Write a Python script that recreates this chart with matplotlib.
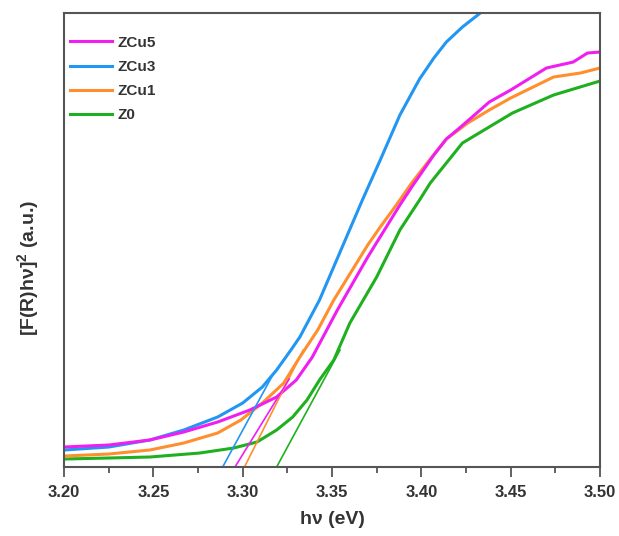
import matplotlib
matplotlib.use("Agg")
import matplotlib.pyplot as plt

plt.rcParams['font.family'] = ['Liberation Sans', 'DejaVu Sans']
plt.rcParams['mathtext.fontset'] = 'custom'
plt.rcParams['mathtext.bf'] = 'Liberation Sans:bold'
plt.rcParams['mathtext.rm'] = 'Liberation Sans:bold'

# photon energy (eV) and [F(R)hv]^2 (a.u.)
E_zcu5 = [3.200, 3.225, 3.248, 3.267, 3.286, 3.304, 3.319, 3.330, 3.339, 3.353, 3.370,
          3.379, 3.388, 3.395, 3.407, 3.414, 3.422, 3.431, 3.438, 3.450, 3.470, 3.485,
          3.493, 3.500]
I_zcu5 = [20, 22, 27, 35, 45, 57, 70, 87, 110, 157, 210,
          236, 262, 281, 312, 328, 340, 354, 365, 377, 399, 405,
          414, 415]

E_zcu3 = [3.200, 3.225, 3.248, 3.267, 3.286, 3.300, 3.311, 3.319, 3.327, 3.332, 3.343,
          3.355, 3.367, 3.377, 3.388, 3.399, 3.407, 3.414, 3.423, 3.433, 3.444]
I_zcu3 = [17, 20, 27, 37, 50, 64, 80, 97, 117, 130, 167,
          217, 267, 307, 352, 388, 409, 425, 440, 454, 468]

E_zcu1 = [3.200, 3.225, 3.248, 3.267, 3.286, 3.299, 3.311, 3.323, 3.332, 3.342, 3.351,
          3.370, 3.377, 3.386, 3.395, 3.405, 3.414, 3.426, 3.438, 3.450, 3.474, 3.489,
          3.500]
I_zcu1 = [11, 13, 17, 24, 34, 47, 64, 84, 110, 137, 167,
          222, 240, 262, 285, 308, 328, 344, 357, 369, 390, 394,
          399]

E_z0 = [3.200, 3.225, 3.248, 3.276, 3.295, 3.308, 3.319, 3.328, 3.336, 3.343, 3.351,
        3.360, 3.375, 3.388, 3.399, 3.405, 3.423, 3.451, 3.474, 3.500]
I_z0 = [8, 9, 10, 14, 19, 25, 37, 50, 67, 87, 107,
        144, 190, 237, 267, 284, 324, 354, 372, 386]

# linear fits (Tauc extrapolation): start on the axis, end near the curve
tan_zcu5 = ([3.2957, 3.3260], [0, 88])
tan_zcu3 = ([3.2888, 3.3162], [0, 90])
tan_zcu1 = ([3.3010, 3.3339], [0, 117])
tan_z0 = ([3.3190, 3.3545], [0, 117])

c5 = '#f01ef0'
c3 = '#2196f3'
c1 = '#ff8f2e'
c0 = '#1fb01f'

fig = plt.figure(figsize=(6.19, 5.36), dpi=100)
ax = fig.add_axes([0.1034, 0.1287, 0.8659, 0.847])

l0, = ax.plot(E_z0, I_z0, color=c0, lw=2.2, label='Z0', solid_joinstyle='round')
l1, = ax.plot(E_zcu1, I_zcu1, color=c1, lw=2.2, label='ZCu1', solid_joinstyle='round')
l3, = ax.plot(E_zcu3, I_zcu3, color=c3, lw=2.2, label='ZCu3', solid_joinstyle='round')
l5, = ax.plot(E_zcu5, I_zcu5, color=c5, lw=2.2, label='ZCu5', solid_joinstyle='round')

for (tx, ty), c in [(tan_z0, c0), (tan_zcu1, c1), (tan_zcu3, c3), (tan_zcu5, c5)]:
    ax.plot(tx, ty, color=c, lw=1.2)

ax.set_xlim(3.20, 3.50)
ax.set_ylim(0, 454)
ax.set_xticks([3.20, 3.25, 3.30, 3.35, 3.40, 3.45, 3.50])
ax.set_xticks([3.225, 3.275, 3.325, 3.375, 3.425, 3.475], minor=True)
ax.set_yticks([])
ax.tick_params(axis='x', which='major', length=7, width=1.3, color='#555555',
               labelsize=12, pad=6)
ax.tick_params(axis='x', which='minor', length=4, width=1.3, color='#555555')
for lab in ax.get_xticklabels():
    lab.set_fontweight('bold')
    lab.set_color('#333333')

for s in ax.spines.values():
    s.set_color('#555555')
    s.set_linewidth(1.5)

ax.set_xlabel('hν (eV)', fontsize=14, fontweight='bold', color='#333333', labelpad=8)
ax.set_ylabel(r'[F(R)hν]$^\mathbf{2}$ (a.u.)', fontsize=14, fontweight='bold',
              color='#333333')
ax.yaxis.set_label_coords(-0.041, 0.438)

leg = ax.legend(handles=[l5, l3, l1, l0], loc='upper left', frameon=False,
                prop={'weight': 'bold', 'size': 11}, handlelength=2.7,
                handletextpad=0.35, labelspacing=0.66,
                bbox_to_anchor=(-0.005, 0.97), borderaxespad=0.2)
for t in leg.get_texts():
    t.set_color('#333333')

fig.savefig('out.png', dpi=100)
